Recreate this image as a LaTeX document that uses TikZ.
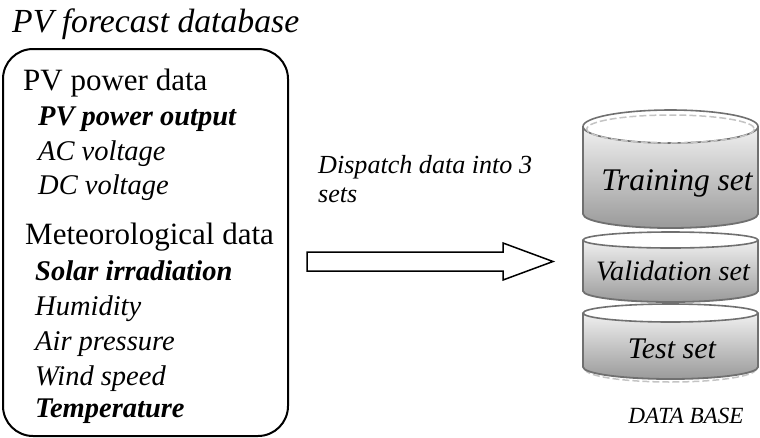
\documentclass[tikz,border=0pt]{standalone}
\usepackage{fontspec}
\setmainfont{Liberation Serif}
\usepackage{graphicx}
\newcommand\hs[1]{\scalebox{1.0}[1]{#1}}
\definecolor{dbline}{HTML}{707070}
\definecolor{dblight}{HTML}{C4C4C4}
\definecolor{shtop}{HTML}{F0F0F0}
\definecolor{shbot}{HTML}{9A9A9A}
\begin{document}
\begin{tikzpicture}[x=1pt,y=-1pt,
  txt/.style={inner sep=0pt, anchor=base west},
  ctxt/.style={inner sep=0pt, anchor=base},
  dbout/.style={draw=dbline, line width=1.8pt},
  dbtop/.style={draw=dbline, fill=white, line width=1.6pt},
  dbdash/.style={draw=dblight, line width=1.5pt, dash pattern=on 7pt off 3pt}]
\useasboundingbox (0,0) rectangle (760,437);

% title and box
\node[txt] (title) at (12,32) {\hs{\fontsize{33.7}{36}\selectfont\itshape PV forecast database}};
\draw[line width=2pt, rounded corners=30pt] (3,49) rectangle (288,436);

\node[txt] (h1) at (23,90) {\hs{\fontsize{31}{33}\selectfont PV power data}};
\node[txt] (i1) at (38,125) {\hs{\fontsize{28.5}{30}\selectfont\itshape\bfseries PV power output}};
\node[txt] (i2) at (38,160) {\hs{\fontsize{28.5}{30}\selectfont\itshape AC voltage}};
\node[txt] (i3) at (38,194) {\hs{\fontsize{28.5}{30}\selectfont\itshape DC voltage}};
\node[txt] (h2) at (25,244) {\hs{\fontsize{31}{33}\selectfont Meteorological data}};
\node[txt] (j1) at (35,280) {\hs{\fontsize{28.5}{30}\selectfont\itshape\bfseries Solar irradiation}};
\node[txt] (j2) at (35,315) {\hs{\fontsize{28.5}{30}\selectfont\itshape Humidity}};
\node[txt] (j3) at (35,350) {\hs{\fontsize{28.5}{30}\selectfont\itshape Air pressure}};
\node[txt] (j4) at (35,385) {\hs{\fontsize{28.5}{30}\selectfont\itshape Wind speed}};
\node[txt] (j5) at (35,417) {\hs{\fontsize{28.5}{30}\selectfont\itshape\bfseries Temperature}};

% dispatch label and block arrow
\node[txt] (d1) at (318,173) {\hs{\fontsize{26.1}{28}\selectfont\itshape Dispatch data into 3}};
\node[txt] (d2) at (318,202) {\hs{\fontsize{26.1}{28}\selectfont\itshape sets}};
\draw[line width=1.5pt, fill=white] (307,252) -- (503,252) -- (503,243) -- (553,261.5)
  -- (503,280) -- (503,271) -- (307,271) -- cycle;

% database: section 3 (test)
\shade[top color=shtop, bottom color=shbot] (583,313) -- (583,367)
  arc[start angle=180, end angle=0, x radius=87.5, y radius=12] -- (758,313) -- cycle;
\draw[dbdash] (585,369) arc[start angle=180, end angle=0, x radius=85.5, y radius=13];
\draw[dbout] (583,313) -- (583,367)
  arc[start angle=180, end angle=0, x radius=87.5, y radius=12] -- (758,313);
\draw[dbtop] (670.5,313) ellipse[x radius=87.5, y radius=9];

% section 2 (validation)
\shade[top color=shtop, bottom color=shbot] (583,240) -- (583,291)
  arc[start angle=180, end angle=0, x radius=87.5, y radius=11] -- (758,240) -- cycle;
\draw[dbout] (583,240) -- (583,291)
  arc[start angle=180, end angle=0, x radius=87.5, y radius=11] -- (758,240);
\draw[dbtop] (670.5,240) ellipse[x radius=87.5, y radius=8];

% section 1 (training)
\shade[top color=shtop, bottom color=shbot] (583,126.5) -- (583,214)
  arc[start angle=180, end angle=0, x radius=87.5, y radius=14] -- (758,126.5) -- cycle;
\draw[dbout] (583,126.5) -- (583,214)
  arc[start angle=180, end angle=0, x radius=87.5, y radius=14] -- (758,126.5);
\draw[dbtop] (670.5,126.5) ellipse[x radius=87.5, y radius=16.5];
\draw[dbdash] (670.5,129) ellipse[x radius=84, y radius=14];

\node[ctxt] (s1) at (677,190) {\hs{\fontsize{31.5}{33}\selectfont\itshape Training set}};
\node[ctxt] (s2) at (673,280) {\hs{\fontsize{28.1}{30}\selectfont\itshape Validation set}};
\node[ctxt] (s3) at (672,358) {\hs{\fontsize{30}{32}\selectfont\itshape Test set}};
\node[ctxt] (db) at (686,423) {\hs{\fontsize{23.2}{25}\selectfont\itshape DATA BASE}};
\end{tikzpicture}
\end{document}
